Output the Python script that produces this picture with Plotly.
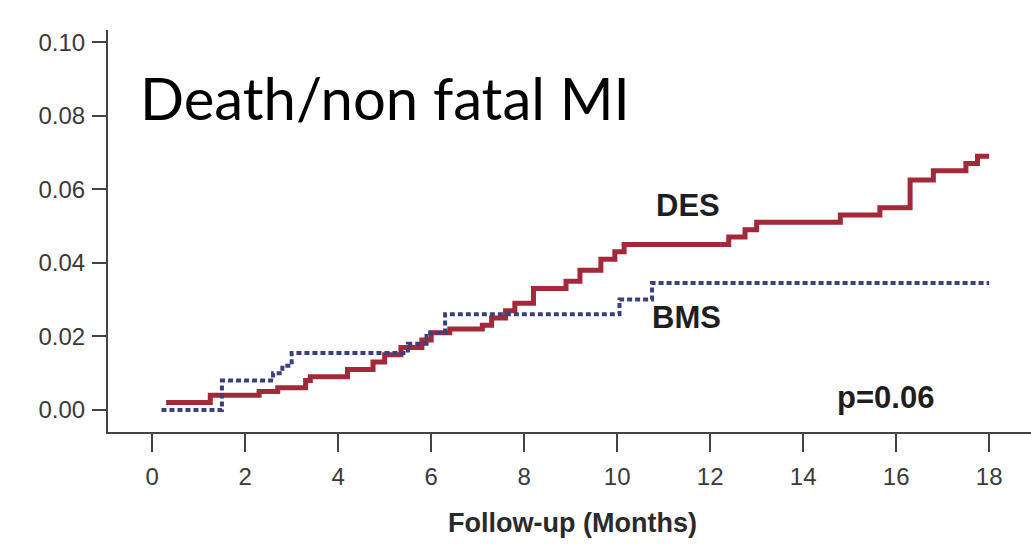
import plotly.graph_objects as go

# DES (drug-eluting stent) cumulative event curve: step change points (months, rate)
des_months = [0.3, 1.25, 2.3, 2.7, 3.3, 3.4, 4.2, 4.75, 5.0, 5.35, 5.8, 6.0, 6.4, 7.1, 7.3, 7.6,
              7.8, 8.2, 8.9, 9.2, 9.65, 9.95, 10.15, 12.4, 12.75, 13.0, 14.8, 15.65, 16.3,
              16.8, 17.5, 17.75, 18.0]
des_rate = [0.002, 0.004, 0.005, 0.006, 0.008, 0.009, 0.011, 0.013, 0.015, 0.017, 0.019, 0.021,
            0.022, 0.023, 0.025, 0.027, 0.029, 0.033, 0.035, 0.038, 0.041, 0.043, 0.045, 0.047,
            0.049, 0.051, 0.053, 0.055, 0.0625, 0.065, 0.067, 0.069, 0.069]

# BMS (bare-metal stent) cumulative event curve
bms_months = [0.2, 1.5, 2.6, 2.8, 3.0, 5.5, 5.9, 6.3, 10.05, 10.75, 18.0]
bms_rate = [0.000, 0.008, 0.010, 0.012, 0.0155, 0.018, 0.021, 0.026, 0.030, 0.0345, 0.0345]

x_ticks = [0, 2, 4, 6, 8, 10, 12, 14, 16, 18]
y_ticks = [0.00, 0.02, 0.04, 0.06, 0.08, 0.10]
y_tick_text = ["0.00", "0.02", "0.04", "0.06", "0.08", "0.10"]

fig = go.Figure()
fig.add_trace(go.Scatter(x=des_months, y=des_rate, mode="lines", line_shape="hv",
                         line=dict(color="#a3283a", width=5), name="DES"))
fig.add_trace(go.Scatter(x=bms_months, y=bms_rate, mode="lines", line_shape="hv",
                         line=dict(color="#3b3f7e", width=4, dash="5px,3px"), name="BMS"))

sans = "Liberation Sans, Arial, sans-serif"
axis_font = dict(family=sans, size=24, color="#3a3a3a")
fig.update_layout(
    width=1031, height=546,
    margin=dict(l=108, r=0, t=30, b=114),
    paper_bgcolor="white", plot_bgcolor="white",
    showlegend=False,
    xaxis=dict(range=[-0.95, 18.9], tickvals=x_ticks, ticks="outside", ticklen=18,
               tickwidth=2, tickcolor="#444", showline=True, linecolor="#444", linewidth=2,
               showgrid=False, zeroline=False, tickfont=axis_font, ticklabelstandoff=4),
    yaxis=dict(range=[-0.006, 0.1033], tickvals=y_ticks, ticktext=y_tick_text,
               ticks="outside", ticklen=14, tickwidth=2, tickcolor="#444", showline=True,
               linecolor="#444", linewidth=2, showgrid=False, zeroline=False,
               tickfont=axis_font, ticklabelstandoff=2),
)

fig.add_annotation(text="Follow-up (Months)", xref="paper", yref="paper", x=0.503, y=-0.226,
                   xanchor="center", yanchor="middle", showarrow=False,
                   font=dict(family=sans, size=27, color="#2a2a2a", weight="bold"))
fig.add_annotation(text="Death/non fatal MI", xref="paper", yref="paper", x=0.033, y=0.833,
                   xanchor="left", yanchor="middle", showarrow=False,
                   font=dict(family="Lato, sans-serif", size=58, color="#000"))
fig.add_annotation(text="DES", xref="paper", yref="paper", x=0.6284, y=0.564,
                   xanchor="center", yanchor="middle", showarrow=False,
                   font=dict(family=sans, size=31, color="#1e1e1e", weight="bold"))
fig.add_annotation(text="BMS", xref="paper", yref="paper", x=0.6273, y=0.284,
                   xanchor="center", yanchor="middle", showarrow=False,
                   font=dict(family=sans, size=31, color="#1e1e1e", weight="bold"))
fig.add_annotation(text="p=0.06", xref="paper", yref="paper", x=0.842, y=0.087,
                   xanchor="center", yanchor="middle", showarrow=False,
                   font=dict(family=sans, size=31, color="#1e1e1e", weight="bold"))

fig.write_html("out.html")
